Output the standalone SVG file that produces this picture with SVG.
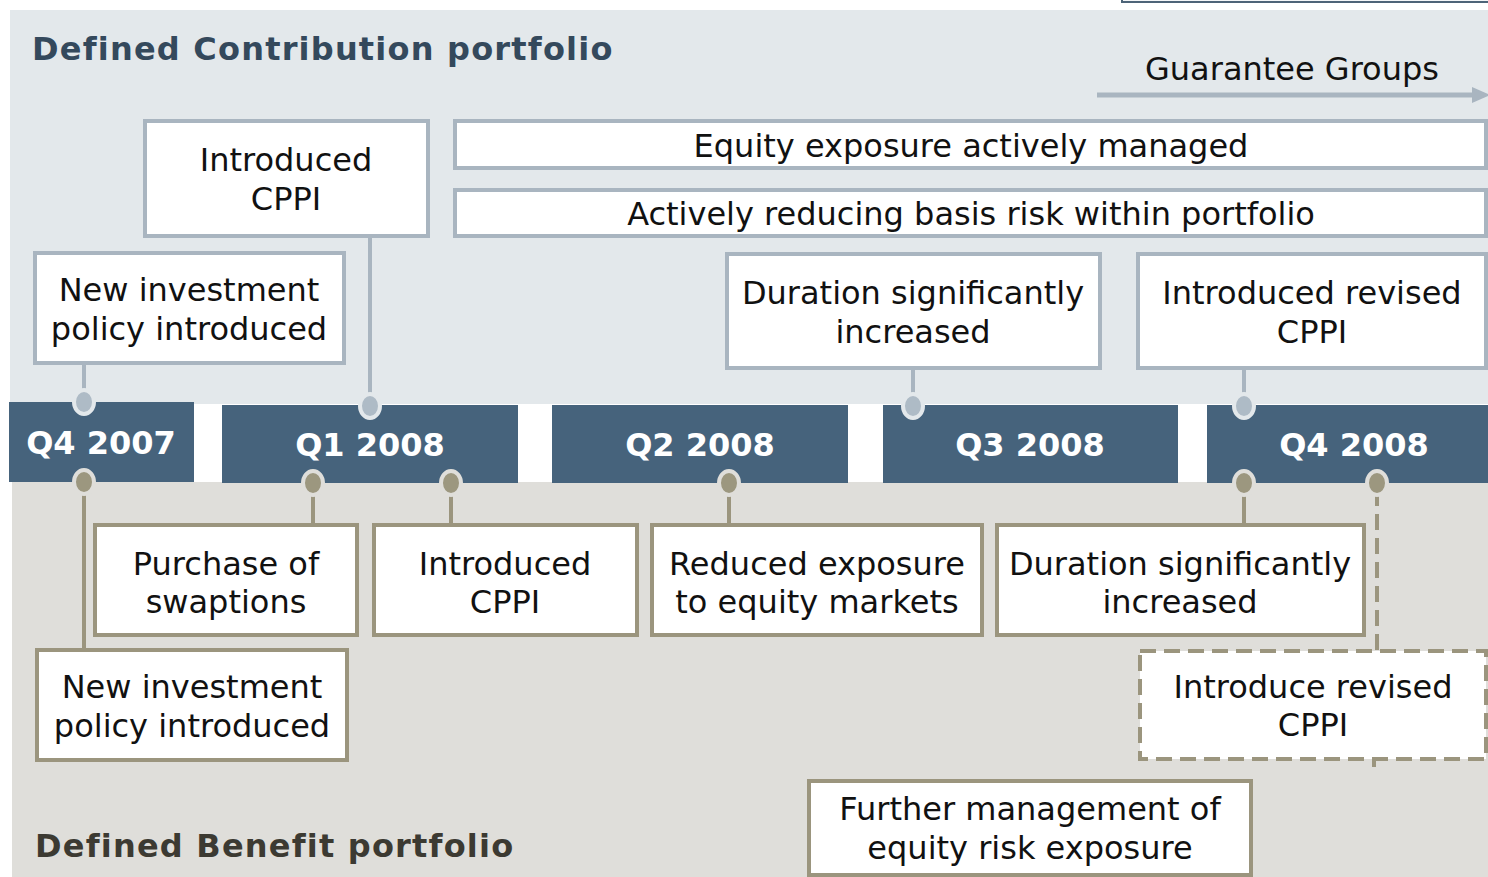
<svg xmlns="http://www.w3.org/2000/svg" width="1488" height="877" viewBox="0 0 1488 877">
<style>
.t{font-family:"DejaVu Sans",Verdana,sans-serif;font-size:32px;fill:#111;text-anchor:middle}
.h{font-family:"DejaVu Sans",Verdana,sans-serif;font-size:32px;font-weight:bold;letter-spacing:1.2px}
.q{font-family:"DejaVu Sans",Verdana,sans-serif;font-size:32px;font-weight:bold;fill:#fff;text-anchor:middle}
.bt{fill:#fff;stroke:#a9b5c0;stroke-width:4}
.bb{fill:#fff;stroke:#9b957e;stroke-width:4}
.bar{fill:#46637c}
.ct{stroke:#a9b5c0;stroke-width:4;fill:none}
.cb{stroke:#9b957e;stroke-width:4;fill:none}
.dt{fill:#aebbc6;stroke:#e3e8eb;stroke-width:4}
.db{fill:#9c977f;stroke:#dfdeda;stroke-width:4}
</style>
<rect width="1488" height="877" fill="#fff"/>
<rect x="10" y="10" width="1478" height="394" fill="#e3e8eb"/>
<rect x="12" y="482" width="1476" height="395" fill="#dfdeda"/>
<rect x="1122" y="-10" width="372" height="12" fill="#f4f6f8" stroke="#4d6478" stroke-width="2"/>
<text class="h" x="32" y="60" fill="#34495c">Defined Contribution portfolio</text>
<text class="h" x="35" y="857" fill="#3c3a32">Defined Benefit portfolio</text>
<g id="guarantee">
<line x1="1097" y1="95" x2="1474" y2="95" stroke="#a9b5c0" stroke-width="5"/>
<polygon points="1472,87 1490,95 1472,103" fill="#a9b5c0"/>
<text class="t" x="1292" y="80">Guarantee Groups</text>
</g>
<g id="timeline">
<rect class="bar" x="9" y="402" width="185" height="80"/>
<text class="q" x="101" y="454">Q4 2007</text>
<rect class="bar" x="222" y="405" width="296" height="78"/>
<text class="q" x="370" y="456">Q1 2008</text>
<rect class="bar" x="552" y="405" width="296" height="78"/>
<text class="q" x="700" y="456">Q2 2008</text>
<rect class="bar" x="883" y="405" width="295" height="78"/>
<text class="q" x="1030" y="456">Q3 2008</text>
<rect class="bar" x="1207" y="405" width="281" height="78"/>
<text class="q" x="1354" y="456">Q4 2008</text>
</g>
<g id="connectors">
<line class="ct" x1="84" y1="363" x2="84" y2="402"/>
<line class="ct" x1="370" y1="236" x2="370" y2="406"/>
<line class="ct" x1="913" y1="368" x2="913" y2="406"/>
<line class="ct" x1="1244" y1="368" x2="1244" y2="406"/>
<line class="cb" x1="84" y1="482" x2="84" y2="650"/>
<line class="cb" x1="313" y1="483" x2="313" y2="525"/>
<line class="cb" x1="451" y1="483" x2="451" y2="525"/>
<line class="cb" x1="729" y1="483" x2="729" y2="525"/>
<line class="cb" x1="1244" y1="483" x2="1244" y2="525"/>
<line class="cb" x1="1377" y1="490" x2="1377" y2="651" stroke-dasharray="16 8"/>
<line class="cb" x1="1374" y1="759" x2="1374" y2="767"/>
<ellipse class="dt" cx="84" cy="402" rx="10" ry="12"/>
<ellipse class="dt" cx="370" cy="406" rx="10" ry="12"/>
<ellipse class="dt" cx="913" cy="406" rx="10" ry="12"/>
<ellipse class="dt" cx="1244" cy="406" rx="10" ry="12"/>
<ellipse class="db" cx="84" cy="482" rx="10" ry="12"/>
<ellipse class="db" cx="313" cy="483" rx="10" ry="12"/>
<ellipse class="db" cx="451" cy="483" rx="10" ry="12"/>
<ellipse class="db" cx="729" cy="483" rx="10" ry="12"/>
<ellipse class="db" cx="1244" cy="483" rx="10" ry="12"/>
<ellipse class="db" cx="1377" cy="483" rx="10" ry="12"/>
</g>
<g id="dc-introduced-cppi">
<rect class="bt" x="145" y="121" width="283" height="115"/>
<text class="t" x="286" y="171">Introduced</text>
<text class="t" x="286" y="210">CPPI</text>
</g>
<g id="dc-equity-exposure">
<rect class="bt" x="455" y="121" width="1031" height="47"/>
<text class="t" x="971" y="157">Equity exposure actively managed</text>
</g>
<g id="dc-basis-risk">
<rect class="bt" x="455" y="190" width="1031" height="46"/>
<text class="t" x="971" y="225">Actively reducing basis risk within portfolio</text>
</g>
<g id="dc-new-policy">
<rect class="bt" x="35" y="253" width="309" height="110"/>
<text class="t" x="189" y="301">New investment</text>
<text class="t" x="189" y="340">policy introduced</text>
</g>
<g id="dc-duration">
<rect class="bt" x="727" y="254" width="373" height="114"/>
<text class="t" x="913" y="304">Duration significantly</text>
<text class="t" x="913" y="343">increased</text>
</g>
<g id="dc-revised-cppi">
<rect class="bt" x="1138" y="254" width="348" height="114"/>
<text class="t" x="1312" y="304">Introduced revised</text>
<text class="t" x="1312" y="343">CPPI</text>
</g>
<g id="db-swaptions">
<rect class="bb" x="95" y="525" width="262" height="110"/>
<text class="t" x="226" y="575">Purchase of</text>
<text class="t" x="226" y="613">swaptions</text>
</g>
<g id="db-introduced-cppi">
<rect class="bb" x="374" y="525" width="263" height="110"/>
<text class="t" x="505" y="575">Introduced</text>
<text class="t" x="505" y="613">CPPI</text>
</g>
<g id="db-reduced-exposure">
<rect class="bb" x="652" y="525" width="330" height="110"/>
<text class="t" x="817" y="575">Reduced exposure</text>
<text class="t" x="817" y="613">to equity markets</text>
</g>
<g id="db-duration">
<rect class="bb" x="997" y="525" width="367" height="110"/>
<text class="t" x="1180" y="575">Duration significantly</text>
<text class="t" x="1180" y="613">increased</text>
</g>
<g id="db-new-policy">
<rect class="bb" x="37" y="650" width="310" height="110"/>
<text class="t" x="192" y="698">New investment</text>
<text class="t" x="192" y="737">policy introduced</text>
</g>
<g id="db-revised-cppi">
<rect class="bb" x="1140" y="651" width="346" height="108" stroke-dasharray="16 8"/>
<text class="t" x="1313" y="698">Introduce revised</text>
<text class="t" x="1313" y="736">CPPI</text>
</g>
<g id="db-further-management">
<rect class="bb" x="809" y="781" width="442" height="94"/>
<text class="t" x="1030" y="820">Further management of</text>
<text class="t" x="1030" y="859">equity risk exposure</text>
</g>
</svg>
